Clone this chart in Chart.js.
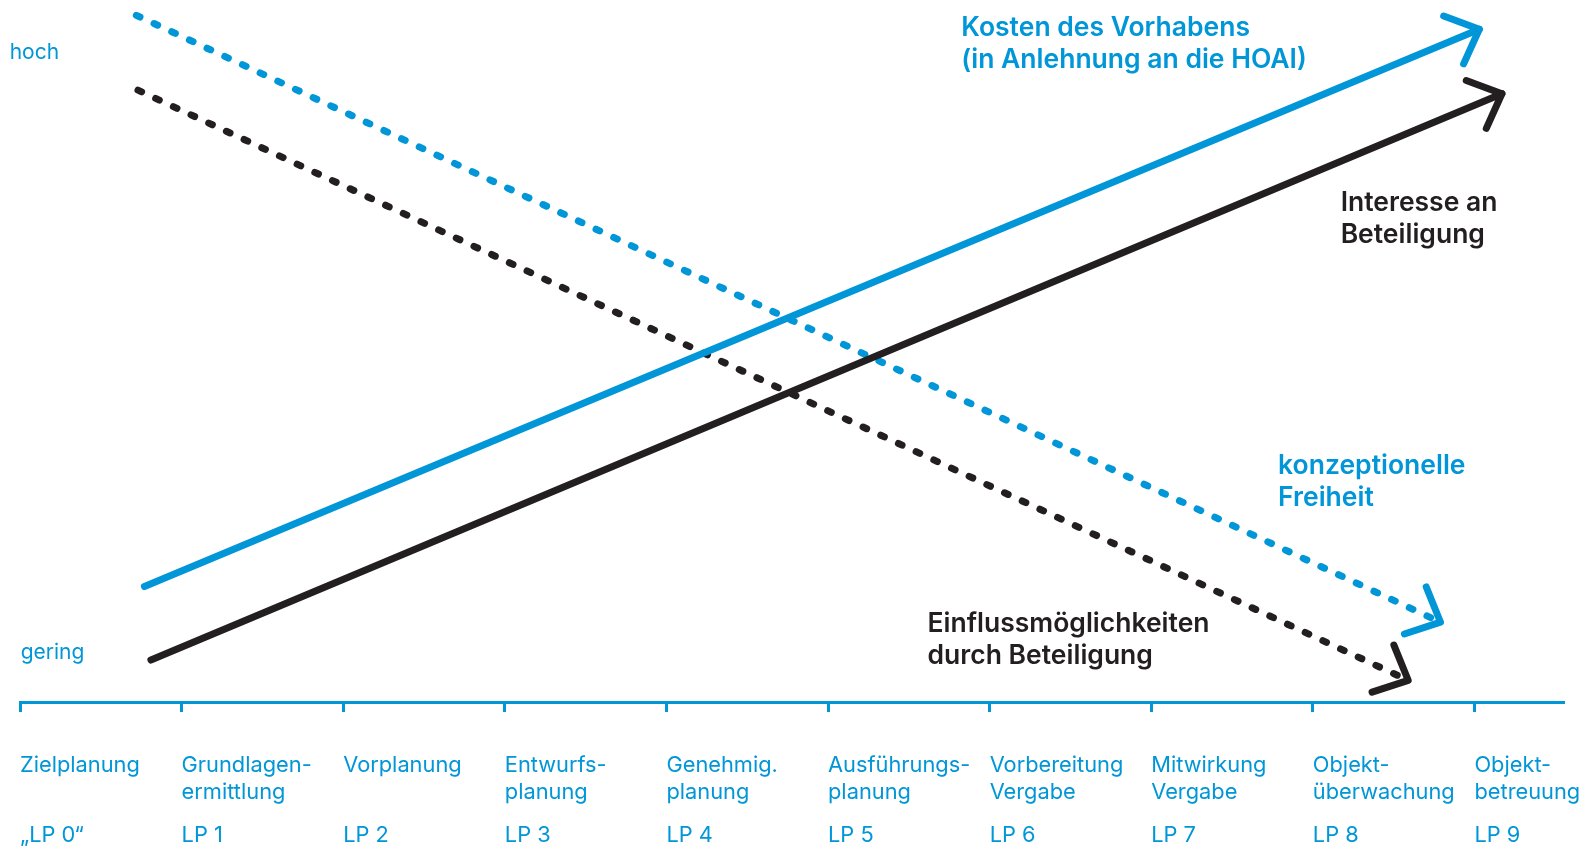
<!DOCTYPE html>
<html lang="de">
<head>
<meta charset="utf-8">
<title>Leistungsphasen und Beteiligung</title>
<script src="https://cdn.jsdelivr.net/npm/chart.js@4.4.1/dist/chart.umd.min.js"></script>
<style>
    html, body { margin: 0; padding: 0; background: #fff; }
    #wrap { width: 1591px; height: 847px; position: relative; }
</style>
</head>
<body>
<div id="wrap"><canvas id="phaseChart"></canvas></div>
<script>
/* Leistungsphasen (HOAI) and the four trend arrows */

const phaseNames = [
    ['Zielplanung'],
    ['Grundlagen-', 'ermittlung'],
    ['Vorplanung'],
    ['Entwurfs-', 'planung'],
    ['Genehmig.', 'planung'],
    ['Ausführungs-', 'planung'],
    ['Vorbereitung', 'Vergabe'],
    ['Mitwirkung', 'Vergabe'],
    ['Objekt-', 'überwachung'],
    ['Objekt-', 'betreuung']
];
const phaseCodes = ['„LP 0“', 'LP 1', 'LP 2', 'LP 3', 'LP 4', 'LP 5', 'LP 6', 'LP 7', 'LP 8', 'LP 9'];

// x = phase index, y = 0 (gering) .. 100 (hoch)
const kostenX = [0.77, 9.03];
const kostenY = [16.5, 96.1];
const interesseX = [0.81, 9.17];
const interesseY = [6.0, 86.9];
const freiheitX = [0.72, 8.79];
const freiheitY = [98.1, 11.4];
const einflussX = [0.73, 8.59];
const einflussY = [87.4, 3.1];

const BLUE = '#0096d7';
const BLACK = '#231f20';
const FONT = 'Inter, "Liberation Sans", sans-serif';

const toPoints = (xs, ys) => xs.map((x, i) => ({ x: x, y: ys[i] }));

// Text notes, placed in axis units
const notes = [
    { lines: ['Kosten des Vorhabens', '(in Anlehnung an die HOAI)'], x: 5.825, y: 95.1, color: BLUE, bold: true },
    { lines: ['Interesse an', 'Beteiligung'], x: 8.172, y: 70.1, color: BLACK, bold: true },
    { lines: ['konzeptionelle', 'Freiheit'], x: 7.785, y: 32.6, color: BLUE, bold: true },
    { lines: ['Einflussmöglichkeiten', 'durch Beteiligung'], x: 5.616, y: 10.0, color: BLACK, bold: true },
    { lines: ['hoch'], x: -0.064, y: 91.9, color: BLUE, bold: false },
    { lines: ['gering'], x: 0.004, y: 6.1, color: BLUE, bold: false }
];

const notesPlugin = {
    id: 'notes',
    afterDraw(chart) {
        const { ctx, scales } = chart;
        ctx.save();
        ctx.textBaseline = 'alphabetic';
        ctx.textAlign = 'left';
        notes.forEach(n => {
            ctx.fillStyle = n.color;
            ctx.font = n.bold ? `600 26.5px ${FONT}` : `21px ${FONT}`;
            const px = scales.x.getPixelForValue(n.x);
            const py = scales.y.getPixelForValue(n.y);
            n.lines.forEach((line, i) => ctx.fillText(line, px, py + i * 32));
        });
        ctx.restore();
    }
};

// Open chevron at the end of every line
const arrowHeads = {
    id: 'arrowHeads',
    afterDatasetsDraw(chart) {
        const ctx = chart.ctx;
        const len = 38;
        const spread = 43 * Math.PI / 180;
        chart.data.datasets.forEach((ds, i) => {
            const pts = chart.getDatasetMeta(i).data;
            const a = pts[pts.length - 2];
            const b = pts[pts.length - 1];
            const ang = Math.atan2(b.y - a.y, b.x - a.x);
            ctx.save();
            ctx.strokeStyle = ds.borderColor;
            ctx.lineWidth = ds.borderWidth;
            ctx.lineCap = 'round';
            ctx.lineJoin = 'round';
            ctx.setLineDash([]);
            ctx.beginPath();
            ctx.moveTo(b.x - len * Math.cos(ang - spread), b.y - len * Math.sin(ang - spread));
            ctx.lineTo(b.x, b.y);
            ctx.lineTo(b.x - len * Math.cos(ang + spread), b.y - len * Math.sin(ang + spread));
            ctx.stroke();
            ctx.restore();
        });
    }
};

function lineSet(label, xs, ys, color, dotted) {
    return {
        label: label,
        data: toPoints(xs, ys),
        borderColor: color,
        borderWidth: 7,
        borderCapStyle: 'round',
        borderDash: dotted ? [4, 15.5] : [],
        pointRadius: 0,
        tension: 0,
        fill: false,
        clip: false
    };
}

new Chart(document.getElementById('phaseChart'), {
    type: 'line',
    data: {
        datasets: [
            lineSet('Kosten des Vorhabens', kostenX, kostenY, BLUE, false),
            lineSet('Interesse an Beteiligung', interesseX, interesseY, BLACK, false),
            lineSet('konzeptionelle Freiheit', freiheitX, freiheitY, BLUE, true),
            lineSet('Einflussmöglichkeiten durch Beteiligung', einflussX, einflussY, BLACK, true)
        ]
    },
    options: {
        responsive: true,
        maintainAspectRatio: false,
        animation: false,
        layout: { padding: { left: 20, right: 28, top: 2, bottom: 0 } },
        plugins: {
            legend: { display: false },
            tooltip: { enabled: false }
        },
        scales: {
            x: {
                type: 'linear',
                position: 'bottom',
                min: 0,
                max: 9.548,
                border: { display: true, color: BLUE, width: 3 },
                grid: {
                    drawOnChartArea: false,
                    drawTicks: true,
                    tickLength: 10,
                    color: BLUE,
                    lineWidth: 3
                },
                ticks: {
                    stepSize: 1,
                    includeBounds: false,
                    autoSkip: false,
                    maxRotation: 0,
                    minRotation: 0,
                    align: 'start',
                    padding: 40,
                    color: BLUE,
                    font: { family: FONT, size: 21.8, lineHeight: '27px' },
                    callback: (v) => phaseNames[v]
                },
                afterFit: (scale) => {
                    // room for the descenders of the second line
                    scale.height = 108;
                    scale.paddingLeft = 0;
                    scale.paddingRight = 0;
                }
            },
            x2: {
                type: 'linear',
                position: 'bottom',
                min: 0,
                max: 9.548,
                border: { display: false },
                grid: { display: false },
                ticks: {
                    stepSize: 1,
                    includeBounds: false,
                    autoSkip: false,
                    maxRotation: 0,
                    minRotation: 0,
                    align: 'start',
                    padding: 4,
                    color: BLUE,
                    font: { family: FONT, size: 21.8, lineHeight: '27px' },
                    callback: (v) => phaseCodes[v]
                },
                afterFit: (scale) => {
                    scale.height = 37;
                    scale.paddingLeft = 0;
                    scale.paddingRight = 0;
                }
            },
            y: {
                display: false,
                min: 0,
                max: 100
            }
        }
    },
    plugins: [arrowHeads, notesPlugin]
});
</script>
</body>
</html>
